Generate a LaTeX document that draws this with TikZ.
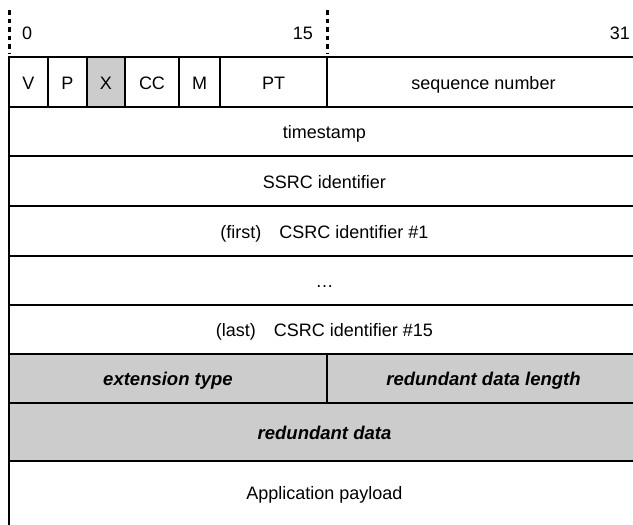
\documentclass[tikz,border=0pt]{standalone}
\usepackage{fontspec}
\setmainfont{Liberation Sans}
\definecolor{cellgray}{RGB}{204,204,204}
\tikzset{
  cell/.style={draw, line width=2.2pt, inner sep=0pt, outer sep=0pt, anchor=north west,
    text height=14pt, text depth=0pt, align=center},
  shaded/.style={cell, fill=cellgray},
  bitlabel/.style={inner sep=0pt, outer sep=0pt},
  tick/.style={line width=3pt, dash pattern=on 4.5pt off 4pt},
  em/.style={font=\fontsize{18.5}{21}\selectfont\bfseries\itshape},
}
\newcommand{\cellbox}[7][cell]{%
  \node[#1, minimum width=#4pt-#2pt, minimum height=#5pt-#3pt] (#6) at (#2,#3) {#7};}
\begin{document}
\begin{tikzpicture}[x=1pt, y=-1pt, every node/.style={font=\fontsize{18}{21}\selectfont}]
\useasboundingbox (0,0) rectangle (633,525);
\clip (0,0) rectangle (633,525);
\fill[white] (0,0) rectangle (633,525);
% bit ruler
\coordinate (t0a) at (9,10);
\coordinate (t0b) at (9,53);
\coordinate (t15a) at (327,10);
\coordinate (t15b) at (327,53);
\draw[tick] (t0a) -- (t0b);
\draw[tick] (t15a) -- (t15b);
\node[bitlabel, anchor=base west] (b0) at (22,39) {0};
\node[bitlabel, anchor=base east] (b15) at (313,39) {15};
\node[bitlabel, anchor=base east] (b31) at (630,39) {31};
% header row
\cellbox{9}{57}{48}{107}{v}{V}
\cellbox{48}{57}{87}{107}{p}{P}
\cellbox[shaded]{87}{57}{125}{107}{x}{X}
\cellbox{125}{57}{179}{107}{cc}{CC}
\cellbox{179}{57}{220}{107}{m}{M}
\cellbox{220}{57}{327}{107}{pt}{PT}
\cellbox{327}{57}{640}{107}{seq}{sequence number}
% full rows
\cellbox{9}{107}{640}{156}{ts}{timestamp}
\cellbox{9}{156}{640}{206}{ssrc}{SSRC identifier}
\cellbox{9}{206}{640}{256}{csrcf}{(first)\hspace{18pt}CSRC identifier \#1}
\cellbox{9}{256}{640}{305}{dots}{…}
\cellbox{9}{305}{640}{354}{csrcl}{(last)\hspace{18pt}CSRC identifier \#15}
% extension
\cellbox[shaded, em]{9}{354}{327}{403}{exttype}{extension type}
\cellbox[shaded, em]{327}{354}{640}{403}{redlen}{redundant data length}
\cellbox[shaded, em]{9}{403}{640}{461}{reddata}{redundant data}
% payload (open below)
\cellbox{9}{461}{640}{590}{payload}{}
\node[bitlabel, anchor=base] (payloadtext) at (324.5,499) {Application payload};
\end{tikzpicture}
\end{document}
